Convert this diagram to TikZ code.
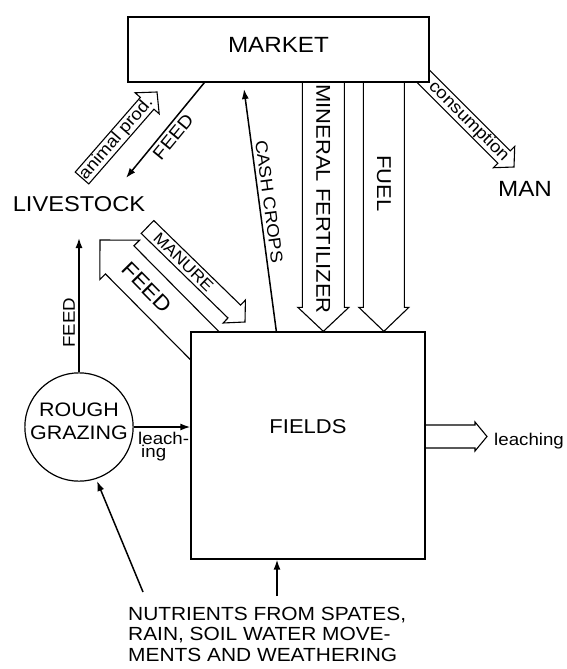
\documentclass[tikz,border=0pt]{standalone}
\usepackage{fontspec}
\setmainfont{Liberation Sans}[FakeStretch=1.1]
\usetikzlibrary{calc,arrows.meta,backgrounds}

% hollow arrow from #1 to #2: half shaft, half head, head length, tail end
\newcommand{\hollowarrow}[6]{%
  \coordinate (hb) at ($(#2)!#5!(#1)$);
  \draw[fatline] ($(#1)!#3!90:(#2)$) -- ($(hb)!#3!90:(#2)$) -- ($(hb)!#4!90:(#2)$) -- (#2)
    -- ($(hb)!#4!-90:(#2)$) -- ($(hb)!#3!-90:(#2)$) -- ($(#1)!#3!-90:(#2)$) #6;
}

\begin{document}
\begin{tikzpicture}[x=1pt, y=-1pt,
    box/.style={rectangle, draw=black, line width=1.3pt, inner sep=0pt},
    flow/.style={line width=1.5pt, -{Latex[length=10pt, width=7pt]}},
    fatline/.style={draw=black, line width=1.1pt, fill=white},
    big/.style={font=\fontsize{22}{26}\selectfont},
    tag/.style={font=\fontsize{17}{19}\selectfont}
]
    \useasboundingbox (0,0) rectangle (567,669);

    % Boxes
    \node[box, big, minimum width=301pt, minimum height=65pt, text depth=10pt] (market) at (278.5,49.5) {MARKET};
    \node[box, minimum width=234pt, minimum height=227pt, text depth=37pt, font=\fontsize{20}{24}\selectfont] (fields) at (308,445.5) {FIELDS};
    \node[circle, draw=black, line width=1.2pt, minimum size=100pt, inner sep=0pt, align=center,
          text depth=11pt, font=\fontsize{19.5}{23}\selectfont] (graze) at (79,427) {ROUGH\\GRAZING};

    % Free labels
    \node[font=\fontsize{21.5}{24}\selectfont] (stock) at (79,204) {LIVESTOCK};
    \node[big] (man) at (525,189) {MAN};
    \node[anchor=north west, inner sep=0pt, align=left, font=\fontsize{19}{20.5}\selectfont] (nutr) at (128,607)
        {NUTRIENTS FROM SPATES,\\RAIN, SOIL WATER MOVE-\\MENTS AND WEATHERING};
    \node[tag, anchor=west, inner sep=0pt] (leachout) at (494,441) {leaching};
    \node[anchor=north west, inner sep=0pt, align=left, font=\fontsize{17}{12.5}\selectfont] (leachin) at (138,432) {leach-\\\hspace{3pt}ing};

    % Ends of the arrows
    \coordinate (ap0) at (82,178);
    \coordinate (ap1) at (157,92);
    \coordinate (mn0) at (147.5,227);
    \coordinate (mn1) at (245,322);
    \coordinate (fd0) at ($(fields.north west)+(14.1,14.1)$);
    \coordinate (fd1) at (100,240);
    \coordinate (mf0) at ($(market.south west)+(196,0)$);
    \coordinate (mf1) at ($(fields.north west)+(133,0)$);
    \coordinate (fu0) at ($(market.south west)+(256.5,0)$);
    \coordinate (fu1) at ($(fields.north west)+(193.5,0)$);
    \coordinate (cs0) at ($(market.south east)+(-6.2,-6.2)$);
    \coordinate (cs1) at (514,167);
    \coordinate (lo0) at (fields.east |- 0,436.5);
    \coordinate (lo1) at (487,436.5);

    % Hollow arrows, behind the boxes
    \begin{scope}[on background layer]
    \hollowarrow{ap0}{ap1}{9pt}{16pt}{15pt}{-- cycle}
    \hollowarrow{mn0}{mn1}{9pt}{16pt}{15pt}{-- cycle}
    \hollowarrow{fd0}{fd1}{20pt}{28pt}{28pt}{}
    \hollowarrow{mf0}{mf1}{21pt}{25.5pt}{24pt}{}
    \hollowarrow{fu0}{fu1}{20.5pt}{25pt}{24pt}{}
    \hollowarrow{cs0}{cs1}{8.8pt}{15pt}{14pt}{}
    \hollowarrow{lo0}{lo1}{11.5pt}{14.5pt}{12pt}{}
    \end{scope}

    \path (ap0) -- (ap1) node[tag, sloped, pos=0.46] {animal prod.};
    \path (mn0) -- (mn1) node[font=\fontsize{16}{18}\selectfont, sloped, pos=0.37] {MANURE};
    \path (fd0) -- (fd1) node[font=\fontsize{21}{24}\selectfont, sloped, pos=0.55] {FEED};
    \path (mf0) -- (mf1) node[font=\fontsize{20}{24}\selectfont, rotate=-90, pos=0.468] {MINERAL FERTILIZER};
    \path (fu0) -- (fu1) node[font=\fontsize{20}{24}\selectfont, rotate=-90, pos=0.404] {FUEL};
    \path (cs0) -- (cs1) node[tag, sloped, pos=0.5] {consumption};

    % Line arrows
    \coordinate (feedtip) at (126,178);
    \coordinate (cashtip) at (244,89);
    \coordinate (grazetip) at (79,238);
    \coordinate (nu0) at (143,592);
    \coordinate (nu1) at (97,481);
    \coordinate (nu2) at (277,596);

    \draw[flow] ($(market.south west)+(77,0)$) -- (feedtip)
        node[font=\fontsize{18}{20}\selectfont, midway, sloped, below] {FEED};
    \draw[flow] ($(fields.north west)+(86,0)$) -- (cashtip)
        node[tag, pos=0.53, sloped, above] {CASH CROPS};
    \draw[flow] (graze.north) -- (grazetip)
        node[tag, pos=0.37, sloped, above] {FEED};
    \draw[flow] (graze.east) -- (fields.west |- graze.east);
    \draw[flow] (nu0) -- (nu1);
    \draw[flow] (nu2) -- (nu2 |- fields.south);

\end{tikzpicture}
\end{document}
